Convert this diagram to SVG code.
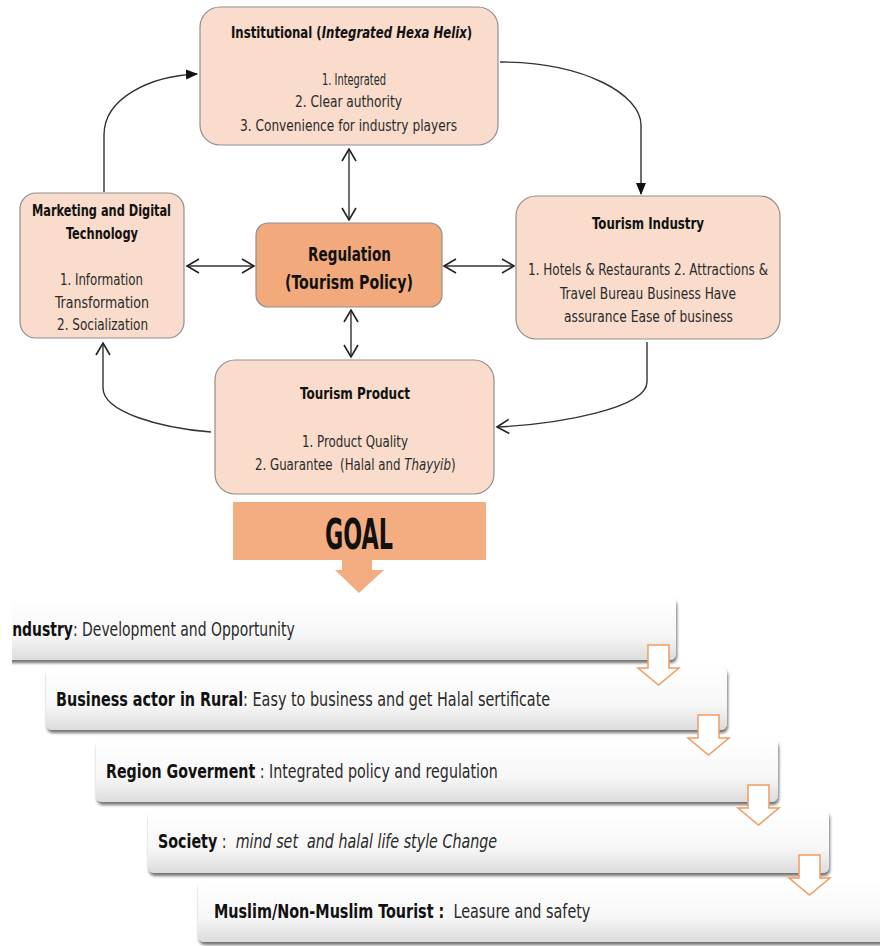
<svg xmlns="http://www.w3.org/2000/svg" width="880" height="946" viewBox="0 0 880 946">
<defs>
<style>
.t{font-family:"DejaVu Sans Condensed","Liberation Sans Narrow","Liberation Sans",sans-serif;font-stretch:condensed;fill:#2a2a2a;}
.b{font-weight:bold;fill:#111;}
.i{font-style:italic;}
.box{fill:#f9dccb;stroke:#8f8f8f;stroke-width:1.2;}
.line{fill:none;stroke:#333;stroke-width:1.4;}
.bar{fill:url(#barg);filter:url(#sh);}
.sarr{fill:#fff;stroke:#f29a62;stroke-width:1.5;}
</style>
<linearGradient id="barg" x1="0" y1="0" x2="0" y2="1">
<stop offset="0" stop-color="#ffffff"/>
<stop offset="0.6" stop-color="#f7f7f7"/>
<stop offset="1" stop-color="#dcdcdc"/>
</linearGradient>
<filter id="sh" x="-5%" y="-20%" width="110%" height="150%">
<feDropShadow dx="1" dy="3" stdDeviation="1.5" flood-color="#000" flood-opacity="0.55"/>
</filter>
<marker id="fa" markerWidth="12" markerHeight="12" refX="11" refY="6" orient="auto" markerUnits="userSpaceOnUse">
<path d="M0,1 L12,6 L0,11 Z" fill="#111"/>
</marker>
<marker id="oa" markerWidth="16" markerHeight="16" refX="13" refY="8" orient="auto-start-reverse" markerUnits="userSpaceOnUse">
<path d="M1,1 L13,8 L1,15" fill="none" stroke="#222" stroke-width="1.6"/>
</marker>
<clipPath id="cl"><rect x="12" y="0" width="868" height="946"/></clipPath>
</defs>
<rect width="880" height="946" fill="#fff"/>

<g id="connectors">
<path class="line" d="M104,192 V135 C104,98 150,76 197,74" marker-end="url(#fa)"/>
<path class="line" d="M500,62 C585,62 641,95 641,125 V194" marker-end="url(#fa)"/>
<path class="line" d="M647,342 V382 C647,408 560,424 497,427" marker-end="url(#oa)"/>
<path class="line" d="M211,432 C160,428 103,412 103,388 V343" marker-end="url(#oa)"/>
<path class="line" d="M349,149 V220" marker-start="url(#oa)" marker-end="url(#oa)"/>
<path class="line" d="M351,310 V357" marker-start="url(#oa)" marker-end="url(#oa)"/>
<path class="line" d="M187,266 H254" marker-start="url(#oa)" marker-end="url(#oa)"/>
<path class="line" d="M444,266 H514" marker-start="url(#oa)" marker-end="url(#oa)"/>
</g>

<g id="institutional">
<rect class="box" x="200" y="7" width="298" height="138" rx="20"/>
<text class="t b" transform="translate(231,38) scale(0.87,1)" font-size="15">Institutional (<tspan class="i">Integrated Hexa Helix</tspan>)</text>
<text class="t" x="322" y="85" font-size="16" textLength="64" lengthAdjust="spacingAndGlyphs">1. Integrated</text>
<text class="t" x="295" y="107" font-size="16" textLength="107" lengthAdjust="spacingAndGlyphs">2. Clear authority</text>
<text class="t" x="240" y="131" font-size="16" textLength="217" lengthAdjust="spacingAndGlyphs">3. Convenience for industry players</text>
</g>

<g id="marketing">
<rect class="box" x="20" y="193" width="164" height="145" rx="16"/>
<text class="t b" x="32" y="216" font-size="15" textLength="139" lengthAdjust="spacingAndGlyphs">Marketing and Digital</text>
<text class="t b" x="66" y="239" font-size="15" textLength="72" lengthAdjust="spacingAndGlyphs">Technology</text>
<text class="t" x="60" y="285" font-size="16" textLength="83" lengthAdjust="spacingAndGlyphs">1. Information</text>
<text class="t" x="55" y="308" font-size="16" textLength="94" lengthAdjust="spacingAndGlyphs">Transformation</text>
<text class="t" x="57" y="330" font-size="16" textLength="91" lengthAdjust="spacingAndGlyphs">2. Socialization</text>
</g>

<g id="regulation">
<rect x="256" y="223" width="186" height="84" rx="12" fill="#f2a97c" stroke="#8f8f8f" stroke-width="1.2"/>
<text class="t b" x="308" y="261" font-size="20" textLength="83" lengthAdjust="spacingAndGlyphs">Regulation</text>
<text class="t b" x="285" y="289" font-size="20" textLength="128" lengthAdjust="spacingAndGlyphs">(Tourism Policy)</text>
</g>

<g id="industry">
<rect class="box" x="516" y="196" width="264" height="143" rx="20"/>
<text class="t b" x="592" y="229" font-size="15" textLength="112" lengthAdjust="spacingAndGlyphs">Tourism Industry</text>
<text class="t" x="528" y="275" font-size="16" textLength="240" lengthAdjust="spacingAndGlyphs">1. Hotels &amp; Restaurants 2. Attractions &amp;</text>
<text class="t" x="560" y="299" font-size="16" textLength="176" lengthAdjust="spacingAndGlyphs">Travel Bureau Business Have</text>
<text class="t" x="564" y="322" font-size="16" textLength="169" lengthAdjust="spacingAndGlyphs">assurance Ease of business</text>
</g>

<g id="product">
<rect class="box" x="215" y="360" width="279" height="134" rx="20"/>
<text class="t b" x="300" y="399" font-size="15" textLength="110" lengthAdjust="spacingAndGlyphs">Tourism Product</text>
<text class="t" x="302" y="447" font-size="16" textLength="106" lengthAdjust="spacingAndGlyphs">1. Product Quality</text>
<text class="t" transform="translate(255,470) scale(0.82,1)" font-size="16">2. Guarantee &#160;(Halal and <tspan class="i">Thayyib</tspan>)</text>
</g>

<g id="goal">
<rect x="233" y="502" width="253" height="58" fill="#f4ad80"/>
<text class="t b" x="325" y="549" font-size="42" textLength="68" lengthAdjust="spacingAndGlyphs">GOAL</text>
<path d="M342,560 H372 V570 H384 L359,593 L335,570 H342 Z" fill="#f4ad80"/>
</g>

<g id="bar1" clip-path="url(#cl)">
<rect class="bar" x="-30" y="597" width="706" height="63" rx="6"/>
<text class="t" transform="translate(7,636) scale(0.816,1)" font-size="19"><tspan class="b">Industry</tspan>: Development and Opportunity</text>
</g>
<g id="bar2">
<rect class="bar" x="46" y="667" width="681" height="63" rx="6"/>
<text class="t" transform="translate(56,706) scale(0.842,1)" font-size="19"><tspan class="b">Business actor in Rural</tspan>: Easy to business and get Halal sertificate</text>
</g>
<g id="bar3">
<rect class="bar" x="96" y="739" width="682" height="63" rx="6"/>
<text class="t" transform="translate(106,778) scale(0.832,1)" font-size="19"><tspan class="b">Region Goverment</tspan> : Integrated policy and regulation</text>
</g>
<g id="bar4">
<rect class="bar" x="148" y="810" width="681" height="63" rx="6"/>
<text class="t" transform="translate(158,848) scale(0.835,1)" font-size="19"><tspan class="b">Society</tspan> : &#160;<tspan class="i">mind set &#160;and halal life style Change</tspan></text>
</g>
<g id="bar5">
<rect class="bar" x="198" y="880" width="700" height="62" rx="6"/>
<text class="t" transform="translate(214,918) scale(0.842,1)" font-size="19"><tspan class="b">Muslim/Non-Muslim Tourist :</tspan> &#160;Leasure and safety</text>
</g>

<g id="step-arrows">
<path class="sarr" d="M648,645 H669 V668 H679 L658.5,685 L638,668 H648 Z"/>
<path class="sarr" d="M698,715 H719 V738 H729 L708.5,755 L688,738 H698 Z"/>
<path class="sarr" d="M748,785 H769 V808 H779 L758.5,825 L738,808 H748 Z"/>
<path class="sarr" d="M799,855 H820 V878 H830 L809.5,895 L789,878 H799 Z"/>
</g>
</svg>
